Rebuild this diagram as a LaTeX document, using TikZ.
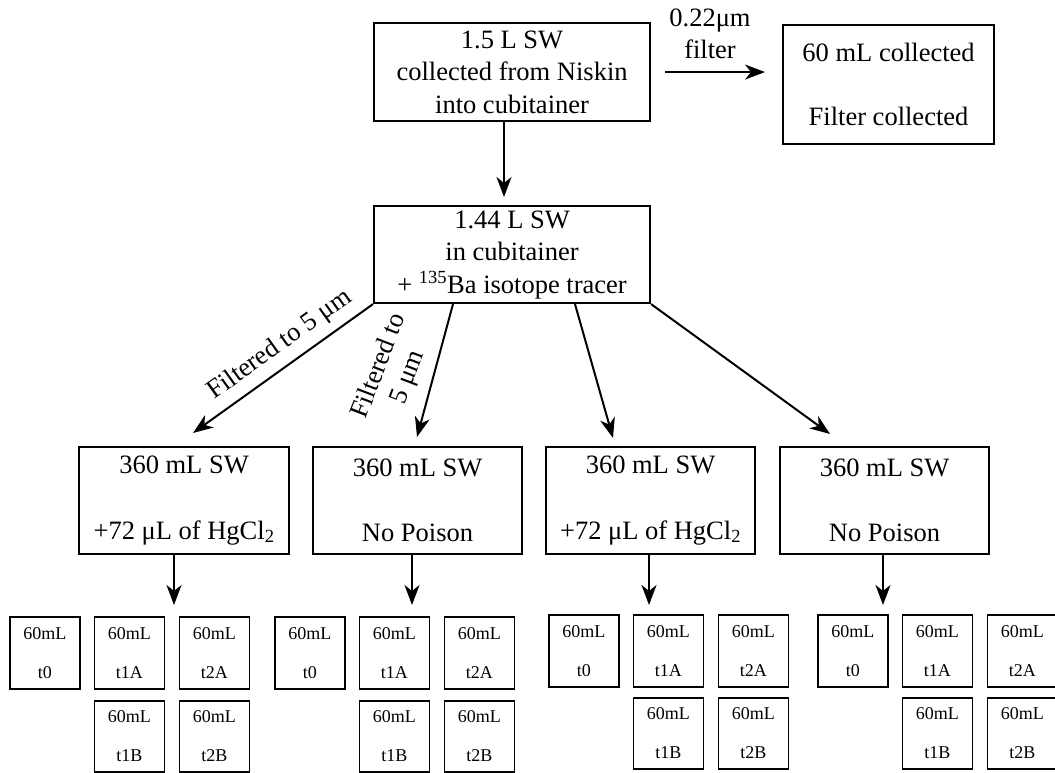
\documentclass[tikz,border=0pt]{standalone}
\usepackage{fontspec}
\setmainfont{Liberation Serif}
\usetikzlibrary{arrows.meta,calc}
\begin{document}
\begin{tikzpicture}[x=1pt,y=-1pt,
  box/.style={draw, line width=2.1pt, inner sep=0pt, anchor=north west, align=center, font=\fontsize{26.5}{32.5}\selectfont},
  smallbox/.style={draw, line width=1.9pt, inner sep=0pt, anchor=north west, align=center, minimum width=70pt, font=\fontsize{18}{21}\selectfont},
  arr/.style={line width=2pt, -{Stealth[length=20pt,width=15pt,inset=6pt]}},
  lbl/.style={font=\fontsize{26.5}{31}\selectfont, align=center}]
\useasboundingbox (0,0) rectangle (1055,772);

% top row
\node[box, minimum width=276pt, minimum height=98pt] (top) at (373,22) {1.5 L SW\\collected from Niskin\\into cubitainer};
\node[box, minimum width=211pt, minimum height=119pt] (fil) at (782,24) {60 mL collected\\[32pt]Filter collected};
\node[lbl, font=\fontsize{26.5}{32}\selectfont] (flbl) at (710,34) {0.22μm\\filter};
\draw[arr, shorten <=14pt, shorten >=17pt] (top.east) -- (top.east -| fil.west);

% second box
\node[box, minimum width=276pt, minimum height=97pt] (mix) at (373,205) {1.44 L SW\\in cubitainer\\+ \textsuperscript{135}Ba isotope tracer};
\coordinate (ca) at (504,197);
\draw[arr] (top.south -| ca) -- (ca);

% middle boxes
\node[box, minimum width=210pt, minimum height=107pt] (m1) at (78,446) {360 mL SW\\[33pt]+72 μL of HgCl\textsubscript{2}};
\node[box, minimum width=209pt, minimum height=107pt] (m2) at (312,446) {360 mL SW\\[33pt]No Poison};
\node[box, minimum width=209pt, minimum height=107pt] (m3) at (545,446) {360 mL SW\\[33pt]+72 μL of HgCl\textsubscript{2}};
\node[box, minimum width=209pt, minimum height=107pt] (m4) at (779,446) {360 mL SW\\[33pt]No Poison};

% branch arrows
\coordinate (e1) at (193,433);
\coordinate (e2) at (417,437);
\coordinate (e3) at (613,438);
\coordinate (e4) at (830,434);
\draw[arr] (mix.south west) -- (e1);
\draw[arr] ($(mix.south west)+(80,0)$) -- (e2);
\draw[arr] ($(mix.south west)+(202,0)$) -- (e3);
\draw[arr] (mix.south east) -- (e4);

\node[lbl, rotate=35.6] (l1) at (280,345) {Filtered to 5 μm};
\node[lbl, rotate=69] (l2) at (394,372) {Filtered to\\5 μm};

% down arrows to samples
\coordinate (d1) at (174,605);
\coordinate (d2) at (412,605);
\coordinate (d3) at (649,605);
\coordinate (d4) at (883,605);
\draw[arr] (m1.south -| d1) -- (d1);
\draw[arr] (m2.south -| d2) -- (d2);
\draw[arr] (m3.south -| d3) -- (d3);
\draw[arr] (m4.south -| d4) -- (d4);

% sample boxes
\foreach \g/\x/\ya/\yb in {1/9/616/700, 2/274/616/700, 3/548/614/697, 4/817/614/697}{
  \node[smallbox, minimum height=72pt] (g\g t0) at (\x,\ya) {60mL\\[18pt]t0};
  \node[smallbox, minimum height=72pt] (g\g t1A) at (\x+84.5,\ya) {60mL\\[18pt]t1A};
  \node[smallbox, minimum height=72pt] (g\g t2A) at (\x+169.5,\ya) {60mL\\[18pt]t2A};
  \node[smallbox, minimum height=71pt] (g\g t1B) at (\x+84.5,\yb) {60mL\\[18pt]t1B};
  \node[smallbox, minimum height=71pt] (g\g t2B) at (\x+169.5,\yb) {60mL\\[18pt]t2B};
}
\end{tikzpicture}
\end{document}
